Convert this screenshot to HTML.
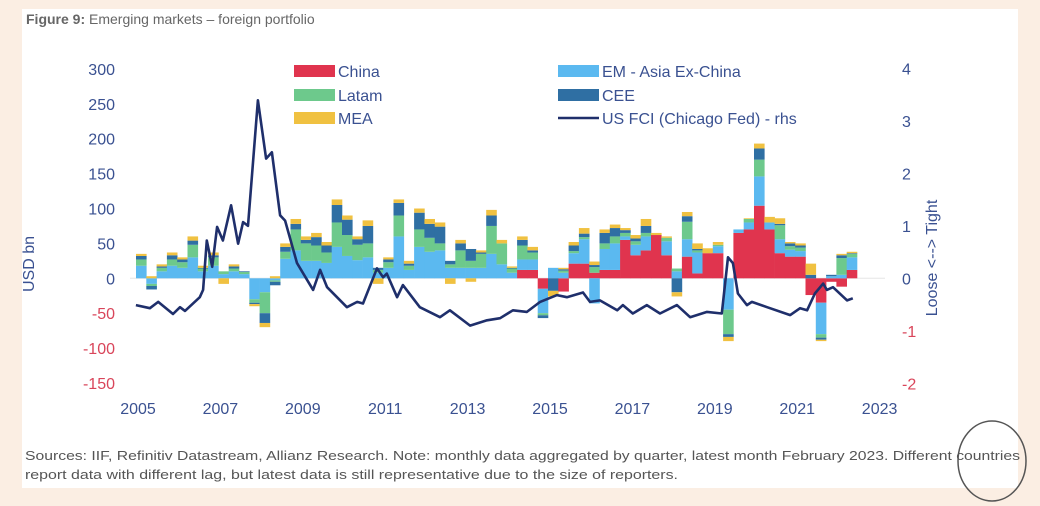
<!DOCTYPE html>
<html><head><meta charset="utf-8"><style>
html,body{margin:0;padding:0;background:#fbeee3;}
body{width:1040px;height:506px;position:relative;overflow:hidden;font-family:"Liberation Sans",sans-serif;}
#panel{position:absolute;left:22px;top:9px;width:996px;height:479px;background:#fff;}
svg{position:absolute;left:0;top:0;}
</style></head><body>
<div id="panel"></div>
<svg id="chart" width="1040" height="506"></svg>
<script>
const quarterStart = 2005;
const china = [0,0,0,0,0,0,0,0,0,0,0,0,0,0,0,0,0,0,0,0,0,0,0,0,0,0,0,0,0,0,0,0,0,0,0,0,0,12,12,-15,0,-19,21,21,8,12,12,55,33,40,62,33,0,31,7,36,36,0,65,70,104,70,36,31,31,-24,-35,-5,-12,12];
const asia = [18,-8,10,18,15,30,10,18,6,10,6,-30,-20,-3,28,40,25,25,22,45,32,26,30,8,15,60,12,45,38,40,15,15,15,15,35,20,8,15,15,-35,15,8,15,35,-36,30,38,5,15,20,0,20,10,25,30,0,10,-45,5,10,42,10,20,10,8,0,-45,3,5,18];
const latam = [9,-3,5,9,8,18,4,12,4,4,3,-5,-30,-2,10,30,25,22,15,35,30,22,20,4,8,30,6,25,20,10,5,25,10,20,40,30,6,20,10,-3,0,3,3,3,8,8,10,5,5,5,0,5,4,25,3,0,2,-35,0,5,24,0,20,5,5,0,-5,0,24,5];
const cee = [5,-5,2,6,4,6,1,3,0,3,1,-2,-14,-5,7,8,5,12,10,25,22,8,25,3,4,18,3,24,20,24,5,10,17,2,15,0,1,8,3,-4,-18,2,8,5,3,15,12,4,4,10,0,0,-20,8,2,0,0,-4,0,0,16,0,2,4,3,5,-3,2,4,1];
const mea = [3,3,3,4,3,6,3,4,-8,3,0,-3,-6,3,5,7,5,6,5,8,6,4,8,-8,3,5,4,6,7,6,-8,5,-5,3,8,5,2,5,5,0,-8,2,5,8,5,5,5,3,5,10,3,2,-6,6,8,7,4,-6,0,1,7,8,8,2,3,16,-2,0,2,2];
const fciYears = [2004.95,2005.29,2005.49,2005.85,2006.02,2006.14,2006.5,2006.58,2006.67,2006.8,2006.92,2007.06,2007.26,2007.43,2007.55,2007.67,2007.91,2008.11,2008.25,2008.45,2008.57,2008.86,2009.25,2009.42,2009.59,2010.07,2010.32,2010.46,2010.8,2010.95,2011.04,2011.29,2011.43,2011.84,2012.33,2012.57,2013.06,2013.47,2013.79,2014.1,2014.44,2014.76,2015.17,2015.41,2015.8,2015.97,2016.21,2016.63,2016.77,2017.01,2017.35,2017.67,2018.08,2018.4,2018.81,2019.17,2019.32,2019.44,2019.56,2019.78,2019.9,2020.27,2020.83,2021.07,2021.24,2021.43,2021.63,2021.72,2021.87,2022.21,2022.35];
const fciValues = [-0.51,-0.57,-0.45,-0.68,-0.55,-0.62,-0.36,-0.22,0.72,0.22,0.98,0.72,1.39,0.66,1.07,1.0,3.39,2.28,2.4,1.2,1.1,0.29,-0.22,0.16,-0.17,-0.55,-0.45,-0.48,0.19,0.02,0.09,-0.36,-0.13,-0.55,-0.74,-0.61,-0.9,-0.8,-0.76,-0.61,-0.64,-0.45,-0.32,-0.36,-0.27,-0.45,-0.42,-0.61,-0.51,-0.67,-0.51,-0.67,-0.51,-0.74,-0.64,-0.67,0.4,0.29,-0.29,-0.51,-0.45,-0.55,-0.7,-0.57,-0.61,-0.29,-0.1,-0.22,-0.17,-0.42,-0.38];
const leftTicks = [300,250,200,150,100,50,0,-50,-100,-150];
const rightTicks = [4,3,2,1,0,-1,-2];
const xTicks = [2005,2007,2009,2011,2013,2015,2017,2019,2021,2023];

const NS='http://www.w3.org/2000/svg';
const svg=document.getElementById('chart');
const x=y=>138+(y-2005)*41.2;
const yL=v=>278.3-v*0.698;
const yR=v=>278.3-v*52.5;
function mk(t,a,parent){const e=document.createElementNS(NS,t);for(const k in a)e.setAttribute(k,a[k]);(parent||svg).appendChild(e);return e;}
const blue='#3a5191', red='#d9455a';

// zero line
const zl=mk('line',{x1:130,x2:885,y1:yL(0),y2:yL(0),stroke:'#e6e6e6','stroke-width':1});



// bars
const series=[[china,'#e0344e','china'],[asia,'#5bb9f0','asia'],[latam,'#6dc98c'||'','latam'],[cee,'#2f6fa3','cee'],[mea,'#f0c141','mea']];
const g=mk('g',{});


for(let i=0;i<china.length;i++){
  let pos=0,neg=0;
  const x0=x(quarterStart+i/4)-2, w=x(quarterStart+(i+1)/4)-x(quarterStart+i/4);
  series.forEach(([arr,col,nm])=>{
    const v=arr[i]; if(!v) return;
    let y1,y2;
    if(v>0){y1=yL(pos+v);y2=yL(pos);pos+=v;} else {y1=yL(neg);y2=yL(neg+v);neg+=v;}
    const r=mk('rect',{x:x0,y:y1,width:w+0.3,height:y2-y1,fill:col},g);
    
    
  });
}
// FCI line
const pts=fciYears.map((t,i)=>x(t).toFixed(1)+','+yR(fciValues[i]).toFixed(1)).join(' ');
const ln=mk('polyline',{points:pts,fill:'none',stroke:'#1f2f6b','stroke-width':2.6,'stroke-linejoin':'round'});



// ticks
leftTicks.forEach(v=>{const t=mk('text',{x:115,y:yL(v)+6,'text-anchor':'end','font-size':16,fill:v<0?red:blue});t.textContent=v;

});
rightTicks.forEach(v=>{const t=mk('text',{x:902,y:yR(v)+6,'font-size':16,fill:v<0?red:blue});t.textContent=v;

});
xTicks.forEach(v=>{const t=mk('text',{x:x(v),y:414,'text-anchor':'middle','font-size':16,fill:blue});t.textContent=v;

});

// axis titles
const at1=mk('text',{x:0,y:0,transform:'translate(34,264) rotate(-90)','text-anchor':'middle','font-size':16,fill:blue});at1.textContent='USD bn';


const at2=mk('text',{x:0,y:0,transform:'translate(937,258) rotate(-90)','text-anchor':'middle','font-size':16,fill:blue});at2.textContent='Loose <--> Tight';



// title
const ti=mk('text',{x:26,y:24,'font-size':14,fill:'#666'});


const tb=mk('tspan',{'font-weight':'bold'},ti);tb.textContent='Figure 9:';
const tr=mk('tspan',{},ti);tr.textContent=' Emerging markets \u2013 foreign portfolio';

// legend
const legend=[[294,71,'#e0344e','China','rect'],[294,95,'#6dc98c','Latam','rect'],[294,118,'#f0c141','MEA','rect'],
[558,71,'#5bb9f0','EM - Asia Ex-China','rect'],[558,95,'#2f6fa3','CEE','rect'],[558,118,'#1f2f6b','US FCI (Chicago Fed) - rhs','line']];
legend.forEach(([lx,ly,c,lab,k])=>{
  const lg=mk('g',{});
  
  
  if(k==='rect') mk('rect',{x:lx,y:ly-6,width:41,height:12,fill:c},lg);
  else mk('line',{x1:lx,x2:lx+41,y1:ly,y2:ly,stroke:c,'stroke-width':2.5},lg);
  const t=mk('text',{x:lx+44,y:ly+6,'font-size':16,fill:blue},lg);t.textContent=lab;
});

// footnote
const f1=mk('text',{x:25,y:460,'font-size':12.5,fill:'#555',textLength:995,lengthAdjust:'spacingAndGlyphs'});
f1.textContent='Sources: IIF, Refinitiv Datastream, Allianz Research. Note: monthly data aggregated by quarter, latest month February 2023. Different countries';


const f2=mk('text',{x:25,y:479,'font-size':12.5,fill:'#555',textLength:653,lengthAdjust:'spacingAndGlyphs'});
f2.textContent='report data with different lag, but latest data is still representative due to the size of reporters.';


const ci=mk('ellipse',{cx:992,cy:461,rx:34,ry:40,fill:'none',stroke:'#555','stroke-width':1.5});


</script>
</body></html>
